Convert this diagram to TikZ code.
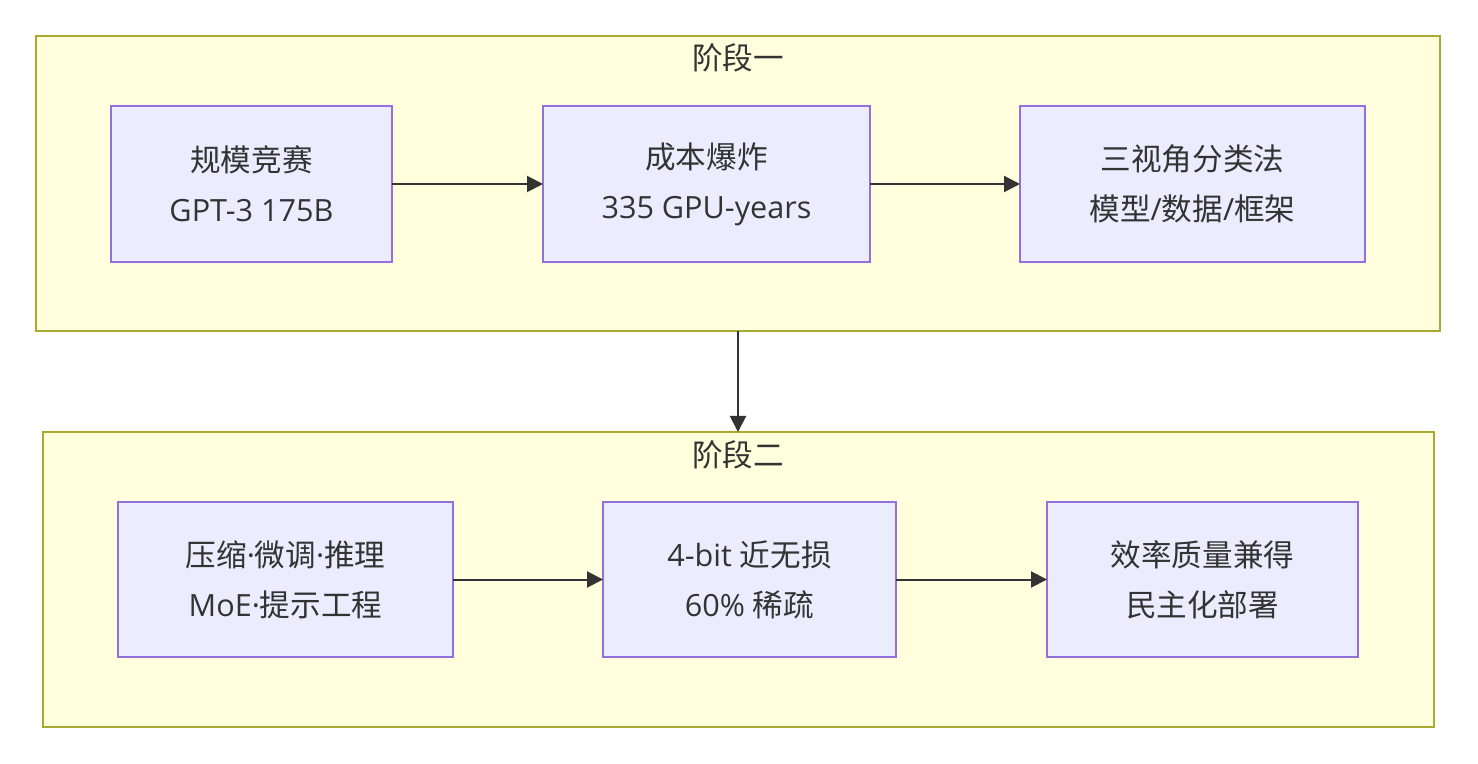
\documentclass[tikz,border=0pt]{standalone}
\usepackage{fontspec}
\setmainfont{Open Sans}
\newfontfamily\cjk{Noto Sans CJK SC}
\usetikzlibrary{arrows.meta,positioning}
\definecolor{clfill}{HTML}{FFFFDE}
\definecolor{cldraw}{HTML}{AAAA33}
\definecolor{ndfill}{HTML}{ECECFF}
\definecolor{nddraw}{HTML}{9370DB}
\definecolor{txt}{HTML}{333333}

\begin{document}
\begin{tikzpicture}[x=0.5pt,y=-0.5pt,>=Stealth,
	cluster/.style={draw=cldraw, fill=clfill, line width=1pt, inner sep=0pt, outer sep=0pt, minimum height=147.5pt},
	stage/.style={draw=nddraw, fill=ndfill, line width=1pt, inner sep=0pt, outer sep=0pt, minimum height=78pt, align=center, text=txt, font=\fontsize{15.3}{25}\selectfont},
	title/.style={text=txt, font=\fontsize{15.3}{18}\selectfont\cjk},
	flow/.style={draw=txt, line width=1pt, -{Triangle[length=8pt,width=8pt]}}]
	\useasboundingbox[fill=white] (0,0) rectangle (1478,764);
	
	%coordinates
	\coordinate (CenterOne) at (738,183.5);
	\coordinate (CenterTwo) at (738.5,579.5);
	
	%clusters
	\node[cluster, minimum width=702pt] (phaseone) at (CenterOne) {};
	\node[cluster, minimum width=695.5pt] (phasetwo) at (CenterTwo) {};
	\node[title] (titleone) at (738,58) {阶段一};
	\node[title] (titletwo) at (738,455) {阶段二};
	
	%nodes
	\node[stage, minimum width=140.5pt] (scale) at (251.5,184) {{\cjk 规模竞赛}\\GPT-3 175B};
	\node[stage, minimum width=163.5pt] (cost) at (706.5,184) {{\cjk 成本爆炸}\\335 GPU-years};
	\node[stage, minimum width=172.5pt] (taxo) at (1192.5,184) {{\cjk 三视角分类法}\\{\cjk 模型}/{\cjk 数据}/{\cjk 框架}};
	
	\node[stage, minimum width=167.5pt, minimum height=77.5pt] (methods) at (285.5,579.5) {{\cjk 压缩}·{\cjk 微调}·{\cjk 推理}\\MoE·{\cjk 提示工程}};
	\node[stage, minimum width=146.5pt, minimum height=77.5pt] (quant) at (749.5,579.5) {4-bit {\cjk 近无损}\\60\% {\cjk 稀疏}};
	\node[stage, minimum width=155.5pt, minimum height=77.5pt] (deploy) at (1202.5,579.5) {{\cjk 效率质量兼得}\\{\cjk 民主化部署}};
	
	\draw[flow] (scale) -- (cost);
	\draw[flow] (cost) -- (taxo);
	\draw[flow] (methods) -- (quant);
	\draw[flow] (quant) -- (deploy);
	\draw[flow] (phaseone.south) -- (phaseone.south |- phasetwo.north);
\end{tikzpicture}
\end{document}
